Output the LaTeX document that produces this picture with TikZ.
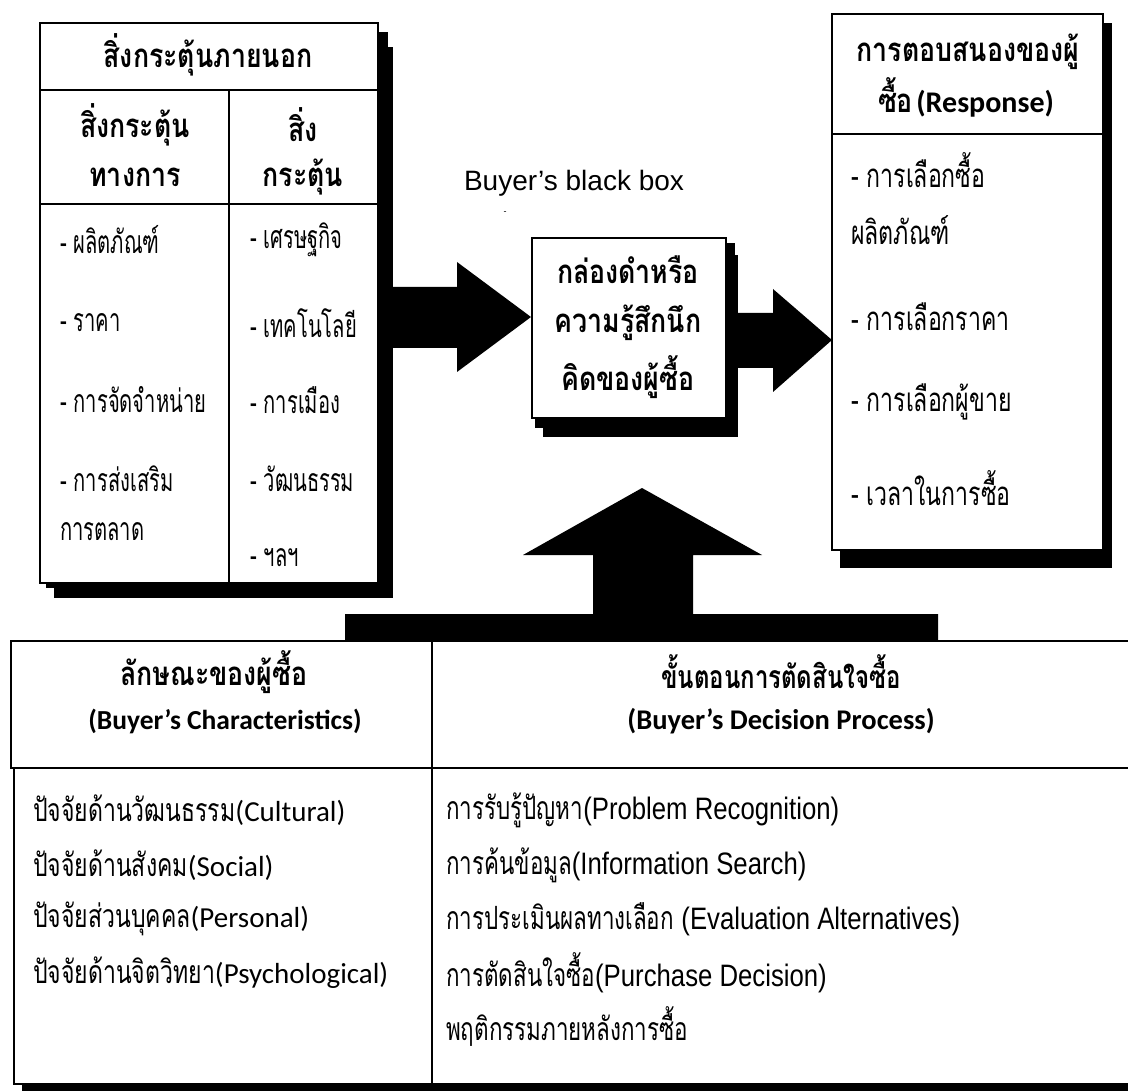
\documentclass[tikz,border=0pt]{standalone}
\usepackage{fontspec}
\newfontfamily\thI[Script=Thai,FakeStretch=0.63]{Loma}
\newfontfamily\thR[Script=Thai,FakeStretch=0.70]{Loma}
\newfontfamily\thH[Script=Thai,FakeStretch=0.81]{Loma}
\newfontfamily\thN[Script=Thai,FakeStretch=0.75]{Loma}
\newfontfamily\thL[Script=Thai,FakeStretch=0.72]{Loma}
\newfontfamily\calF{Carlito}
\newfontfamily\arF{Liberation Sans}
\newfontfamily\arN[FakeStretch=0.83]{Liberation Sans}
\newcommand\fs[1]{\fontsize{#1}{#1}\selectfont}
\begin{document}
\begin{tikzpicture}[x=1pt,y=-1pt,
  box/.style={draw=black,line width=1.6pt,fill=white,anchor=north west,inner sep=0pt},
  sh/.style={fill=black},
  rule/.style={line width=1.6pt},
  hd/.style={font=\thH\bfseries\fs{33},inner sep=0pt},
  hdn/.style={font=\thN\bfseries\fs{32},inner sep=0pt},
  itm/.style={font=\thI\fs{32},inner sep=0pt,anchor=west},
  itmr/.style={font=\thR\fs{33},inner sep=0pt,anchor=west},
  rowl/.style={font=\thL\fs{32},inner sep=0pt,anchor=west},
  rowr/.style={font=\thR\fs{32},inner sep=0pt,anchor=west}]
\useasboundingbox (0,0) rectangle (1128,1091);
\fill[white] (0,0) rectangle (1128,1091);

% ---- external stimuli box ----
\fill[sh] (46,32) rectangle (388,588);
\fill[sh] (54,47) rectangle (393,598);
% left arrow
\coordinate (la0) at (385,287);
\fill (la0) -- (457,287) -- (457,262) -- (531,317) -- (457,372) -- (457,348) -- (385,348) -- cycle;
\node[box,minimum width=338pt,minimum height=560pt] (ext) at (39,22) {};
\draw[rule] (39,90) -- (377,90);
\draw[rule] (39,204) -- (377,204);
\draw[rule] (229,90) -- (229,582);

% ---- black box ----
\fill[sh] (535,243) rectangle (735,428);
\fill[sh] (543,255) rectangle (738,437);
\coordinate (ra0) at (730,313);
\fill (ra0) -- (773,313) -- (773,289) -- (832,340) -- (773,392) -- (773,368) -- (730,368) -- cycle;
\node[box,minimum width=194pt,minimum height=180pt] (bb) at (531,237) {};

% ---- response box ----
\fill[sh] (840,23) rectangle (1112,568);
\node[box,minimum width=271pt,minimum height=536pt] (resp) at (831,13) {};
\draw[rule] (831,134) -- (1102,134);

% ---- up arrow with bar ----
\coordinate (ua0) at (642,488);
\fill (ua0) -- (762,555) -- (693,555) -- (693,614) -- (938,614) -- (938,641)
  -- (345,641) -- (345,614) -- (593,614) -- (593,555) -- (523,555) -- cycle;

% ---- bottom table ----
\fill[sh] (22,1075) rectangle (1135,1091);
\node[box,minimum width=1125pt,minimum height=127pt] (bhead) at (10,640) {};
\node[box,minimum width=1122pt,minimum height=316pt] (bbody) at (13,767) {};
\draw[rule] (432,640) -- (432,1083);

% ---- texts ----
\node[hd] (t1) at (208,55) {สิ่งกระตุ้นภายนอก};
\node[hd] (t2) at (135,125) {สิ่งกระตุ้น};
\node[hd] (t3) at (135,177) {ทางการ};
\node[hd] (t4) at (303,125) {สิ่ง};
\node[hd] (t5) at (303,177) {กระตุ้น};
\node[itm] (i1) at (60,240) {- ผลิตภัณฑ์};
\node[itm] (i2) at (60,323) {- ราคา};
\node[itm] (i3) at (60,400) {- การจัดจำหน่าย};
\node[itm] (i4) at (60,479) {- การส่งเสริม};
\node[itm] (i5) at (60,532) {การตลาด};
\node[itm] (j1) at (250,240) {- เศรษฐกิจ};
\node[itm] (j2) at (250,323) {- เทคโนโลยี};
\node[itm] (j3) at (250,400) {- การเมือง};
\node[itm] (j4) at (250,479) {- วัฒนธรรม};
\node[itm] (j5) at (250,558) {- ฯลฯ};

\node[font=\arF\fs{28},inner sep=0pt] (bbl) at (574,183) {Buyer’s black box};
\node[font=\arF\fs{9},inner sep=0pt] (dash) at (505,213) {-};

\node[hd] (b1) at (628,270) {กล่องดำหรือ};
\node[hd] (b2) at (628,323) {ความรู้สึกนึก};
\node[hd] (b3) at (628,377) {คิดของผู้ซื้อ};

\node[hd] (r1) at (968,52) {การตอบสนองของผู้};
\node[inner sep=0pt] (r2) at (966,97) {{\thH\bfseries\fs{33}ซื้อ} {\calF\bfseries\fs{30}(Response)}};
\node[itmr] (s1) at (851,170) {- การเลือกซื้อ};
\node[itmr] (s2) at (851,230) {ผลิตภัณฑ์};
\node[itmr] (s3) at (851,317) {- การเลือกราคา};
\node[itmr] (s4) at (851,402) {- การเลือกผู้ขาย};
\node[itmr] (s5) at (851,488) {- เวลาในการซื้อ};

\node[hd] (h1) at (214,672) {ลักษณะของผู้ซื้อ};
\node[font=\calF\bfseries\fs{27.5},inner sep=0pt] (h2) at (225,721) {(Buyer’s Characteristics)};
\node[hdn] (h3) at (781,672) {ขั้นตอนการตัดสินใจซื้อ};
\node[font=\calF\bfseries\fs{28.5},inner sep=0pt] (h4) at (781,721) {(Buyer’s Decision Process)};

\node[rowl] (c1) at (33,810) {ปัจจัยด้านวัฒนธรรม{\calF\fs{29}(Cultural)}};
\node[rowl] (c2) at (33,865) {ปัจจัยด้านสังคม{\calF\fs{29}(Social)}};
\node[rowl] (c3) at (33,919) {ปัจจัยส่วนบุคคล{\calF\fs{29}(Personal)}};
\node[rowl] (c4) at (33,973) {ปัจจัยด้านจิตวิทยา{\calF\fs{29}(Psychological)}};

\node[rowr] (d1) at (446,810) {การรับรู้ปัญหา{\arN\fs{31}(Problem Recognition)}};
\node[rowr] (d2) at (446,865) {การค้นข้อมูล{\arN\fs{31}(Information Search)}};
\node[rowr] (d3) at (446,919) {การประเมินผลทางเลือก {\arN\fs{31}(Evaluation Alternatives)}};
\node[rowr] (d4) at (446,973) {การตัดสินใจซื้อ{\arN\fs{31}(Purchase Decision)}};
\node[rowr] (d5) at (446,1027) {พฤติกรรมภายหลังการซื้อ};
\end{tikzpicture}
\end{document}
